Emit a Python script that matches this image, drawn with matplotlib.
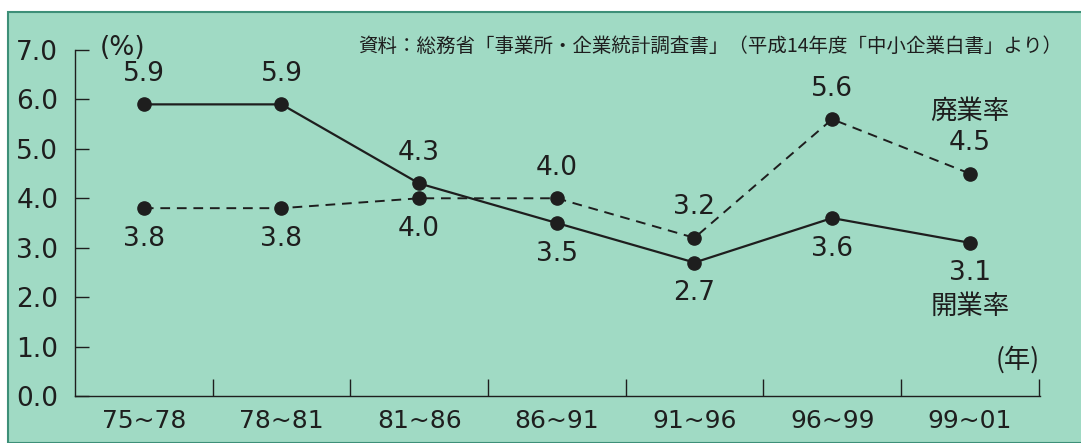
import matplotlib
matplotlib.use('Agg')
import matplotlib.pyplot as plt
from matplotlib.patches import Rectangle

plt.rcParams['font.family'] = ['DejaVu Sans', 'Noto Sans CJK JP']

periods = ['75~78', '78~81', '81~86', '86~91', '91~96', '96~99', '99~01']
kaigyo = [5.9, 5.9, 4.3, 3.5, 2.7, 3.6, 3.1]     # 開業率 (solid)
haigyo = [3.8, 3.8, 4.0, 4.0, 3.2, 5.6, 4.5]     # 廃業率 (dashed)
# label above (+1) or below (-1) each point
kaigyo_pos = [1, 1, 1, -1, -1, -1, -1]
haigyo_pos = [-1, -1, -1, 1, 1, 1, 1]
yticks = [0.0, 1.0, 2.0, 3.0, 4.0, 5.0, 6.0, 7.0]

bg = '#a0dac4'
ink = '#1e1e1e'
jp = ['Noto Sans CJK JP', 'DejaVu Sans']

fig = plt.figure(figsize=(10.81, 4.43), dpi=100)
fig.patch.set_facecolor('white')
panel = Rectangle((8 / 1081, 0), 1, (443 - 12) / 443, transform=fig.transFigure,
                  facecolor=bg, edgecolor='#3d8f78', linewidth=1.5, zorder=-10)
fig.patches.append(panel)

ax = fig.add_axes([75 / 1081, 47 / 443, (1040 - 75) / 1081, (396 - 50) / 443])
ax.set_facecolor('none')

x = list(range(len(periods)))
ax.plot(x, kaigyo, color=ink, lw=1.6, marker='o', ms=9.5, zorder=3)
ax.plot(x, haigyo, color=ink, lw=1.4, ls=(0, (5, 3.5)), marker='o', ms=9.5, zorder=3)

for xi, v, p in zip(x, kaigyo, kaigyo_pos):
    ax.annotate(f'{v:.1f}', (xi, v), xytext=(0, 22 * p), textcoords='offset points',
                ha='center', va='center', fontsize=19, color=ink)
for xi, v, p in zip(x, haigyo, haigyo_pos):
    ax.annotate(f'{v:.1f}', (xi, v), xytext=(0, 22 * p), textcoords='offset points',
                ha='center', va='center', fontsize=19, color=ink)

# series names near the last points
ax.annotate('廃業率', (x[-1], haigyo[-1]), xytext=(0, 45), textcoords='offset points',
            ha='center', va='center', fontsize=19, color=ink, family=jp)
ax.annotate('開業率', (x[-1], kaigyo[-1]), xytext=(0, -46), textcoords='offset points',
            ha='center', va='center', fontsize=19, color=ink, family=jp)

ax.set_xlim(-0.5, len(periods) - 0.49)
ax.set_ylim(0, 7)
ax.set_yticks(yticks)
ax.set_yticklabels([f'{t:.1f}' for t in yticks], fontsize=19, color=ink)
ax.set_xticks([i + 0.5 for i in range(len(periods))])
ax.set_xticklabels([])
ax.set_xticks(x, minor=True)
ax.set_xticklabels(periods, minor=True, fontsize=18, color=ink)
ax.tick_params(axis='y', direction='in', length=10, width=1, color=ink, pad=12)
ax.tick_params(axis='x', which='major', direction='in', length=12, width=1, color=ink)
ax.tick_params(axis='x', which='minor', length=0, pad=9)

for s in ['top', 'right']:
    ax.spines[s].set_visible(False)
for s in ['left', 'bottom']:
    ax.spines[s].set_color(ink)
    ax.spines[s].set_linewidth(1)

ax.text(0.026, 1.005, '(%)', transform=ax.transAxes, fontsize=19, color=ink,
        ha='left', va='center')
ax.text(1.023, 1.01, '資料：総務省「事業所・企業統計調査書」（平成14年度「中小企業白書」より）',
        transform=ax.transAxes, fontsize=14, color=ink, ha='right', va='center',
        family=jp)
ax.text(1.0, 0.105, '(年)', transform=ax.transAxes, fontsize=19, color=ink,
        ha='right', va='center', family=jp)

fig.savefig('out.png', dpi=100, facecolor=fig.get_facecolor())
